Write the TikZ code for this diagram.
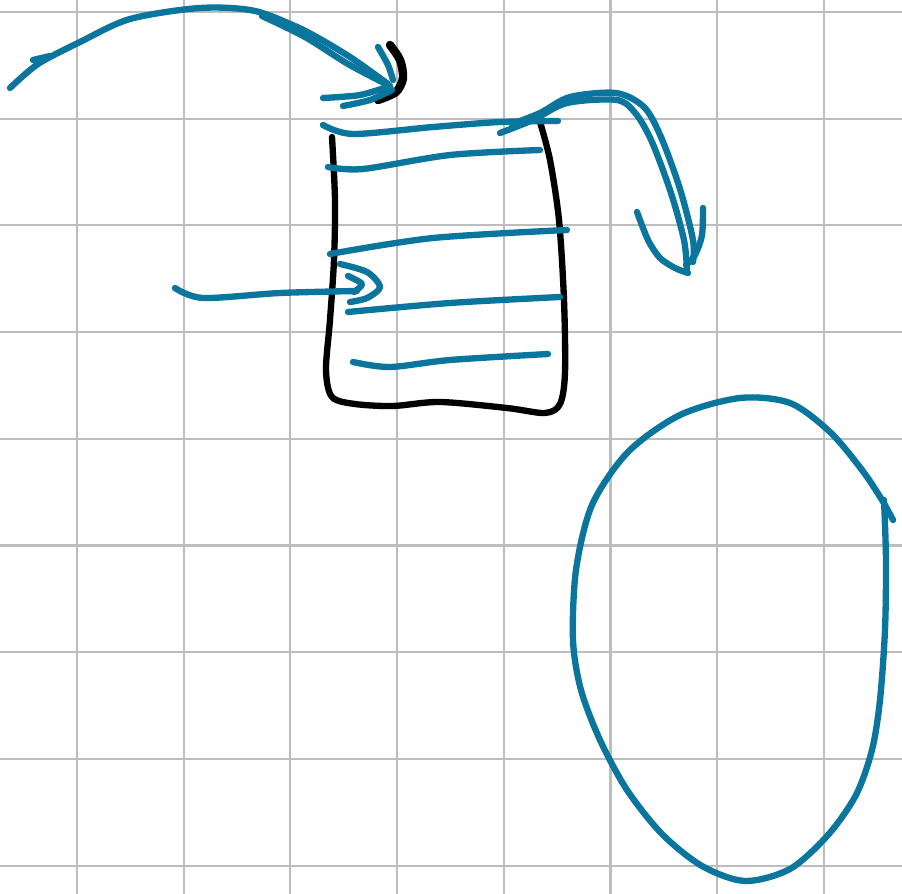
\documentclass[tikz,border=0pt]{standalone}
\usepackage{xcolor}
\usepackage{tikz}
\definecolor{penblue}{HTML}{0A769E}
\definecolor{gridgray}{HTML}{BDBDBD}

\begin{document}
\begin{tikzpicture}[x=0.01cm,y=-0.01cm,
    gridline/.style={gridgray,line width=0.6pt},
    ink/.style={penblue,line width=1.8pt,line cap=round,line join=round},
    pen/.style={black,line width=1.8pt,line cap=round,line join=round}]
    \useasboundingbox[fill=white] (0,0) rectangle (902,894);
    % paper grid
    \foreach \i in {0,...,7}
      \draw[gridline] ({77+106.7*\i},0) -- ({77+106.7*\i},894);
    \foreach \j in {0,...,8}
      \draw[gridline] (0,{12+106.7*\j}) -- (902,{12+106.7*\j});
    % arc arrow at the top
    \draw[pen,line width=1pt] plot[smooth] coordinates {(250,10) (300,27) (345,54) (384,80)};
    \draw[ink] plot[smooth] coordinates {(10,88) (38,64) (80,42) (130,19) (200,8) (255,11) (305,31) (350,57) (388,84)};
    \draw[ink] plot[smooth] coordinates {(262,16) (305,37) (348,64) (384,83)};
    \draw[ink] (33,60) -- (50,56);
    \draw[pen,line width=2.4pt] plot[smooth] coordinates {(390,45) (400,60) (403,78) (396,92) (378,100)};
    \draw[ink] plot[smooth] coordinates {(323,98) (360,95) (390,86)};
    \draw[ink] plot[smooth] coordinates {(343,106) (370,100) (392,90)};
    \draw[ink] plot[smooth] coordinates {(378,47) (388,65) (393,80)};
    % the box
    \draw[pen] plot[smooth] coordinates {(332,137) (335,200) (334,260) (330,320) (326,370) (332,397) (355,404) (393,406) (440,402) (507,408) (545,413) (560,404) (565,373) (564,300) (559,220) (550,160) (540,122)};
    % lines in the box
    \draw[ink] plot[smooth] coordinates {(323,125) (353,134) (433,127) (500,122) (558,121)};
    \draw[ink] plot[smooth] coordinates {(328,167) (363,169) (450,155) (540,150)};
    \draw[ink] plot[smooth] coordinates {(330,254) (433,238) (567,230)};
    \draw[ink] plot[smooth] coordinates {(348,312) (450,303) (560,297)};
    \draw[ink] plot[smooth] coordinates {(353,362) (390,367) (450,360) (548,354)};
    % arrow into the box
    \draw[ink] plot[smooth] coordinates {(175,288) (203,298) (280,293) (357,291)};
    \draw[ink] plot[smooth] coordinates {(340,264) (367,272) (380,287) (367,298) (350,302)};
    \draw[ink] plot[smooth] coordinates {(348,276) (362,284) (354,292)};
    % arrow out of the box
    \draw[ink] plot[smooth] coordinates {(500,133) (533,120) (567,103) (617,100) (636,114) (652,142) (671,193) (684,240) (687,270)};
    \draw[ink] plot[smooth] coordinates {(512,124) (540,113) (570,97) (616,93) (644,107) (661,137) (680,189) (693,240) (693,262)};
    \draw[ink] plot[smooth] coordinates {(637,212) (648,240) (660,258) (675,268) (688,273)};
    \draw[ink] plot[smooth] coordinates {(703,208) (702,235) (695,255) (686,265)};
    % the loop
    \draw[ink] plot[smooth] coordinates {(884,500) (886,560) (885,630) (880,700) (872,750) (856,795) (828,835) (790,869) (745,881) (702,866) (662,834) (627,790) (600,740) (581,690) (573,640) (576,570) (592,505) (628,452) (680,415) (740,398) (790,403) (830,432) (862,470) (882,500) (893,520)};
\end{tikzpicture}
\end{document}
